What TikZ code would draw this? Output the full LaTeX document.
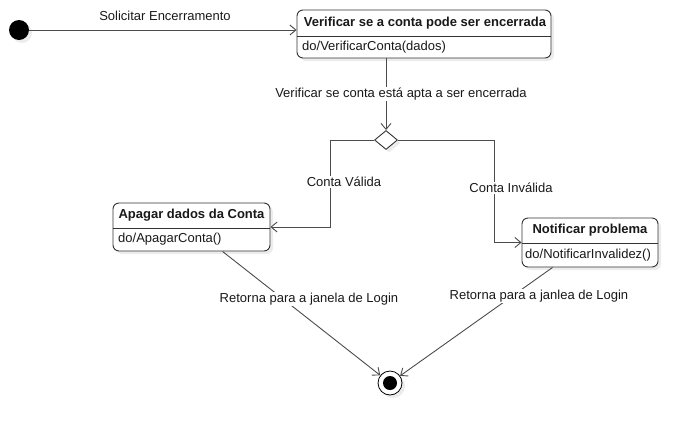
\documentclass[tikz,border=0pt]{standalone}
\usepackage{fontspec}
\setmainfont{Liberation Sans}
\usetikzlibrary{arrows.meta,shapes.geometric,shadows,calc}
\begin{document}
\begin{tikzpicture}[x=1pt,y=-1pt,
  every node/.style={font=\fontsize{13}{15}\selectfont, text=black!90},
  shd/.style={drop shadow={shadow xshift=3pt,shadow yshift=-3pt,fill=black!12,opacity=0.6}},
  statebox/.style={draw=black!80, line width=0.9pt, rounded corners=6pt, fill=white, shd, inner sep=0pt},
  title/.style={font=\fontsize{13}{15}\selectfont\bfseries, inner sep=0pt},
  body/.style={anchor=west, inner sep=0pt},
  conn/.style={draw=black!70, line width=0.9pt},
  arr/.style={conn, -{Straight Barb[length=6pt,width=10pt]}},
  lbl/.style={fill=white, inner sep=1pt}]
\useasboundingbox (0,0) rectangle (698,437);

% initial state
\node[circle, fill=black, minimum size=20pt, inner sep=0pt, shd] (start) at (19,30) {};

% box 1
\node[statebox, minimum width=254pt, minimum height=48pt] (box1) at (424,34) {};
\draw[draw=black!80, line width=0.9pt] (box1.west |- 0,36) -- (box1.east |- 0,36);
\node[title] (t1) at (425,23) {Verificar se a conta pode ser encerrada};
\node[body] (b1) at (302,47) {do/VerificarConta(dados)};

% diamond
\node[diamond, draw=black!80, line width=0.9pt, fill=white, minimum width=23pt, minimum height=19pt, inner sep=0pt, shd] (dec) at (386,140) {};

% Apagar box
\node[statebox, minimum width=157pt, minimum height=48pt] (apagar) at (191.5,227) {};
\draw[draw=black!80, line width=0.9pt] (apagar.west |- 0,228) -- (apagar.east |- 0,228);
\node[title] (t2) at (191.5,215.5) {Apagar dados da Conta};
\node[body] (b2) at (118,239.5) {do/ApagarConta()};

% Notificar box
\node[statebox, minimum width=136pt, minimum height=49pt] (notif) at (590,242.5) {};
\draw[draw=black!80, line width=0.9pt] (notif.west |- 0,243) -- (notif.east |- 0,243);
\node[title] (t3) at (590,230.5) {Notificar problema};
\node[body] (b3) at (525,255) {do/NotificarInvalidez()};

% final state
\node[circle, draw=black, line width=0.8pt, fill=white, minimum size=24pt, inner sep=0pt, shd] (final) at (390,383) {};
\fill[black] (final.center) circle (7);

% connectors
\draw[arr] (start) -- (box1.west |- start);
\node (l1) at (165,16) {Solicitar Encerramento};

\draw[arr] (dec.north |- box1.south) -- (dec.north);
\node[lbl] (l2) at (401,94) {Verificar se conta está apta a ser encerrada};

\coordinate (lv) at (330,140);
\draw[arr] (dec.west) -- (lv) |- (apagar.east);
\node[lbl] (l3) at (344,182) {Conta Válida};

\coordinate (rv) at (494,140);
\draw[arr] (dec.east) -- (rv) |- (notif.west);
\node[lbl] (l4) at (511,188) {Conta Inválida};

\coordinate (a1) at ($(apagar.south west)+(110,0)$);
\draw[arr] (a1) -- (final);
\node[lbl] (l5) at (309,299) {Retorna para a janela de Login};

\coordinate (n1) at ($(notif.south west)+(31,0)$);
\draw[arr] (n1) -- (final);
\node[lbl] (l6) at (539,296) {Retorna para a janlea de Login};
\end{tikzpicture}
\end{document}
